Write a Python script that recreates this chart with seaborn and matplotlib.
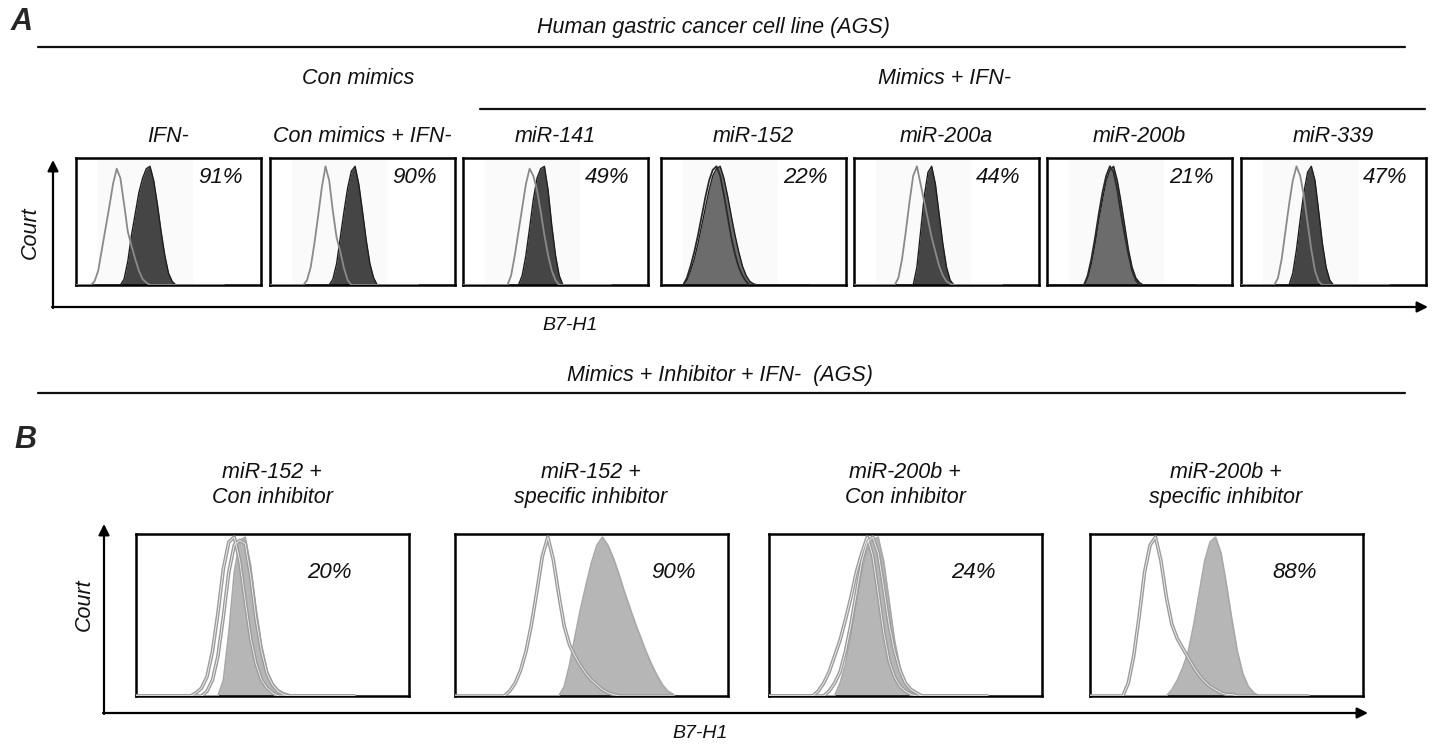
import numpy as np
import pandas as pd
import matplotlib
matplotlib.use("Agg")
import matplotlib.pyplot as plt
import seaborn as sns

sns.set_theme(style="white")
plt.rcParams['font.family'] = ['Liberation Sans', 'DejaVu Sans']

# ---------------- data ----------------
channel = list(range(0, 801, 20))  # fluorescence channel bins (41)

a_titles = ["IFN-", "Con mimics + IFN-", "miR-141", "miR-152", "miR-200a", "miR-200b", "miR-339"]
a_percent = ["91%", "90%", "49%", "22%", "44%", "21%", "47%"]

a_open = [
    [0,0,0,0,0, 3,12,30,48,66, 85,98,90,68,45, 33,22,12,5,2, 0,0,0,0,0, 0,0,0,0,0, 0,0,0,0,0, 0,0,0,0,0, 0],
    [0,0,0,0,0, 0,0,0,0,0, 4,15,35,58,82, 100,88,62,40,28, 14,4,0,0,0, 0,0,0,0,0, 0,0,0,0,0, 0,0,0,0,0, 0],
    [0,0,0,0,0, 0,0,0,0,0, 0,0,0,8,25, 45,65,85,98,92, 80,62,42,25,12, 4,0,0,0,0, 0,0,0,0,0, 0,0,0,0,0, 0],
    [0,0,0,0,0, 0,0,6,16,28, 42,58,74,88,97, 100,92,76,58,40, 26,15,8,3,0, 0,0,0,0,0, 0,0,0,0,0, 0,0,0,0,0, 0],
    [0,0,0,0,0, 0,0,0,0,0, 0,0,6,22,45, 70,92,100,85,70, 55,40,28,16,8, 3,1,0,0,0, 0,0,0,0,0, 0,0,0,0,0, 0],
    [0,0,0,0,0, 0,0,0,0,0, 0,8,22,40,60, 78,92,100,95,80, 60,42,26,12,4, 0,0,0,0,0, 0,0,0,0,0, 0,0,0,0,0, 0],
    [0,0,0,0,0, 0,0,0,0,0, 6,22,45,68,88, 100,92,75,52,30, 12,3,0,0,0, 0,0,0,0,0, 0,0,0,0,0, 0,0,0,0,0, 0],
]
a_filled = [
    [0,0,0,0,0, 0,0,0,0,0, 0,0,0,5,20, 42,60,78,90,98, 100,88,68,45,25, 10,3,0,0,0, 0,0,0,0,0, 0,0,0,0,0, 0],
    [0,0,0,0,0, 0,0,0,0,0, 0,0,0,0,0, 0,0,5,18,40, 62,82,96,100,85, 62,38,18,6,0, 0,0,0,0,0, 0,0,0,0,0, 0],
    [0,0,0,0,0, 0,0,0,0,0, 0,0,0,0,0, 0,8,25,48,72, 90,98,100,80,50, 25,8,0,0,0, 0,0,0,0,0, 0,0,0,0,0, 0],
    [0,0,0,0,0, 0,0,4,12,22, 35,50,65,80,92, 98,100,90,75,58, 42,28,16,8,3, 1,0,0,0,0, 0,0,0,0,0, 0,0,0,0,0, 0],
    [0,0,0,0,0, 0,0,0,0,0, 0,0,0,0,0, 0,0,15,45,75, 95,100,85,60,35, 15,4,0,0,0, 0,0,0,0,0, 0,0,0,0,0, 0],
    [0,0,0,0,0, 0,0,0,0,0, 0,6,18,35,55, 72,88,97,100,88, 70,50,30,15,6, 2,0,0,0,0, 0,0,0,0,0, 0,0,0,0,0, 0],
    [0,0,0,0,0, 0,0,0,0,0, 0,0,0,0,10, 30,55,78,95,100, 88,62,35,15,4, 0,0,0,0,0, 0,0,0,0,0, 0,0,0,0,0, 0],
]
a_fill_colors = ["#454545", "#454545", "#454545", "#6c6c6c", "#454545", "#6c6c6c", "#454545"]

b_titles = ["miR-152 +\nCon inhibitor", "miR-152 +\nspecific inhibitor",
            "miR-200b +\nCon inhibitor", "miR-200b +\nspecific inhibitor"]
b_percent = ["20%", "90%", "24%", "88%"]
b_open = [
    [0,0,0,0,0, 0,0,0,0,0, 0,2,5,12,28, 52,80,97,100,85, 60,36,20,10,5, 2,0,0,0,0, 0,0,0,0,0, 0,0,0,0,0, 0],
    [0,0,0,0,0, 0,0,0,0,0, 3,8,16,28,45, 66,88,100,86,64, 44,32,25,19,14, 10,7,4,2,1, 0,0,0,0,0, 0,0,0,0,0, 0],
    [0,0,0,0,0, 0,0,0,0,3, 8,15,25,35,48, 62,78,90,100,88, 65,40,22,12,6, 3,1,0,0,0, 0,0,0,0,0, 0,0,0,0,0, 0],
    [0,0,0,0,0, 0,0,8,25,50, 78,95,100,85,62, 45,36,30,24,18, 13,9,6,4,2, 1,1,0,0,0, 0,0,0,0,0, 0,0,0,0,0, 0],
]
b_open2 = [
    [0,0,0,0,0, 0,0,0,0,0, 0,0,0,3,10, 25,50,78,95,98, 96,75,48,28,14, 7,3,1,0,0, 0,0,0,0,0, 0,0,0,0,0, 0],
    None,
    [0,0,0,0,0, 0,0,0,0,0, 0,3,8,15,28, 45,65,85,97,100, 90,68,45,28,16, 8,4,2,0,0, 0,0,0,0,0, 0,0,0,0,0, 0],
    None,
]
b_filled = [
    [0,0,0,0,0, 0,0,0,0,0, 0,0,0,0,0, 0,10,40,78,98, 100,82,55,32,16, 8,4,2,1,0, 0,0,0,0,0, 0,0,0,0,0, 0],
    [0,0,0,0,0, 0,0,0,0,0, 0,0,0,0,0, 0,0,0,0,0, 6,20,38,55,70, 84,95,100,95,87, 77,66,56,46,37, 28,20,13,7,3, 1],
    [0,0,0,0,0, 0,0,0,0,0, 0,0,0,8,20, 38,58,78,92,98, 100,85,60,35,18, 8,3,0,0,0, 0,0,0,0,0, 0,0,0,0,0, 0],
    [0,0,0,0,0, 0,0,0,0,0, 0,0,0,0,0, 4,10,18,28,45, 65,85,97,100,90, 70,48,28,14,6, 2,0,0,0,0, 0,0,0,0,0, 0],
]

# ---------------- figure ----------------
W, H = 1432, 744
fig = plt.figure(figsize=(W / 100, H / 100), dpi=100)
fig.patch.set_facecolor("white")


def add_box(left, top, width, height):
    ax = fig.add_axes([left / W, 1 - (top + height) / H, width / W, height / H])
    ax.set_xticks([]); ax.set_yticks([])
    ax.set_xlabel(""); ax.set_ylabel("")
    for s in ax.spines.values():
        s.set_visible(True)
        s.set_color("black")
        s.set_linewidth(1.8)
    ax.set_facecolor("white")
    return ax

# overlay for text / rules / arrows in pixel coordinates
ov = fig.add_axes([0, 0, 1, 1])
ov.set_xlim(0, W); ov.set_ylim(H, 0); ov.axis("off")

txt = dict(style="italic", color="#111111", ha="center", va="center")

ov.text(22, 22, "A", fontsize=22, fontweight="bold", style="italic", ha="center", va="center")
ov.text(25, 440, "B", fontsize=22, fontweight="bold", style="italic", ha="center", va="center")

ov.plot([38, 1405], [47, 47], color="#111111", lw=1.6)
ov.text(713, 28, "Human gastric cancer cell line (AGS)", fontsize=15.5, **txt)
ov.text(358, 78, "Con mimics", fontsize=15.5, **txt)
ov.text(945, 78, "Mimics + IFN-", fontsize=15.5, **txt)
ov.plot([480, 1425], [109, 109], color="#111111", lw=1.6)

ov.text(720, 375, "Mimics + Inhibitor + IFN-  (AGS)", fontsize=15.5, **txt)
ov.plot([38, 1405], [393, 393], color="#111111", lw=1.6)

arrow = dict(arrowstyle="-|>", lw=1.6, color="black", mutation_scale=16, shrinkA=0, shrinkB=0)
# panel A axes
ov.annotate("", xy=(53, 160), xytext=(53, 308), arrowprops=arrow)
ov.annotate("", xy=(1428, 307), xytext=(52, 307), arrowprops=arrow)
ov.text(30, 233, "Court", fontsize=15.5, rotation=90, **txt)
ov.text(570, 325, "B7-H1", fontsize=14, **txt)
# panel B axes
ov.annotate("", xy=(104, 524), xytext=(104, 714), arrowprops=arrow)
ov.annotate("", xy=(1368, 713), xytext=(103, 713), arrowprops=arrow)
ov.text(84, 605, "Court", fontsize=15.5, rotation=90, **txt)
ov.text(700, 733, "B7-H1", fontsize=14, **txt)

# ---------------- panel A ----------------
a_lefts = [76, 270, 463, 661, 854, 1047, 1241]
for i in range(7):
    ax = add_box(a_lefts[i], 158, 185, 127)
    ax.axvspan(120, 630, color="#fafafa", zorder=0, lw=0)
    ax.fill_between(channel, a_filled[i], color=a_fill_colors[i], lw=0, zorder=2)
    sns.lineplot(x=channel, y=a_filled[i], ax=ax, color="#1e1e1e", lw=1.0,
                 estimator=None, sort=False, legend=False, zorder=3)
    open_col = "#2a2a2a" if a_fill_colors[i] != "#454545" else "#8a8a8a"
    sns.lineplot(x=channel, y=a_open[i], ax=ax, color=open_col, lw=1.3,
                 estimator=None, sort=False, legend=False, zorder=4)
    ax.set_xlim(0, 1000); ax.set_ylim(0, 107)
    ax.set_xticks([]); ax.set_yticks([]); ax.set_xlabel(""); ax.set_ylabel("")
    ax.text(0.78, 0.85, a_percent[i], transform=ax.transAxes, fontsize=16, **txt)
    ov.text(a_lefts[i] + 92, 136, a_titles[i], fontsize=15.5, **txt)

# ---------------- panel B ----------------
b_lefts = [136, 455, 769, 1090]
b_pct_x = [0.71, 0.80, 0.75, 0.75]
for i in range(4):
    ax = add_box(b_lefts[i], 534, 273, 162)
    ax.fill_between(channel, b_filled[i], color="#b6b6b6", lw=0, zorder=2)
    sns.lineplot(x=channel, y=b_filled[i], ax=ax, color="#a8a8a8", lw=1.2,
                 estimator=None, sort=False, legend=False, zorder=3)
    for curve in [b_open[i], b_open2[i]]:
        if curve is None:
            continue
        sns.lineplot(x=channel, y=curve, ax=ax, color="#9c9c9c", lw=2.6,
                     estimator=None, sort=False, legend=False, zorder=4)
        sns.lineplot(x=channel, y=curve, ax=ax, color="#f2f2f2", lw=0.6,
                     estimator=None, sort=False, legend=False, zorder=5)
    ax.set_xlim(0, 1000); ax.set_ylim(0, 102)
    ax.set_xticks([]); ax.set_yticks([]); ax.set_xlabel(""); ax.set_ylabel("")
    ax.text(b_pct_x[i], 0.76, b_percent[i], transform=ax.transAxes, fontsize=16, **txt)
    ov.text(b_lefts[i] + 136, 485, b_titles[i], fontsize=15.5, linespacing=1.25, **txt)

fig.savefig("out.png", dpi=100, facecolor="white")
